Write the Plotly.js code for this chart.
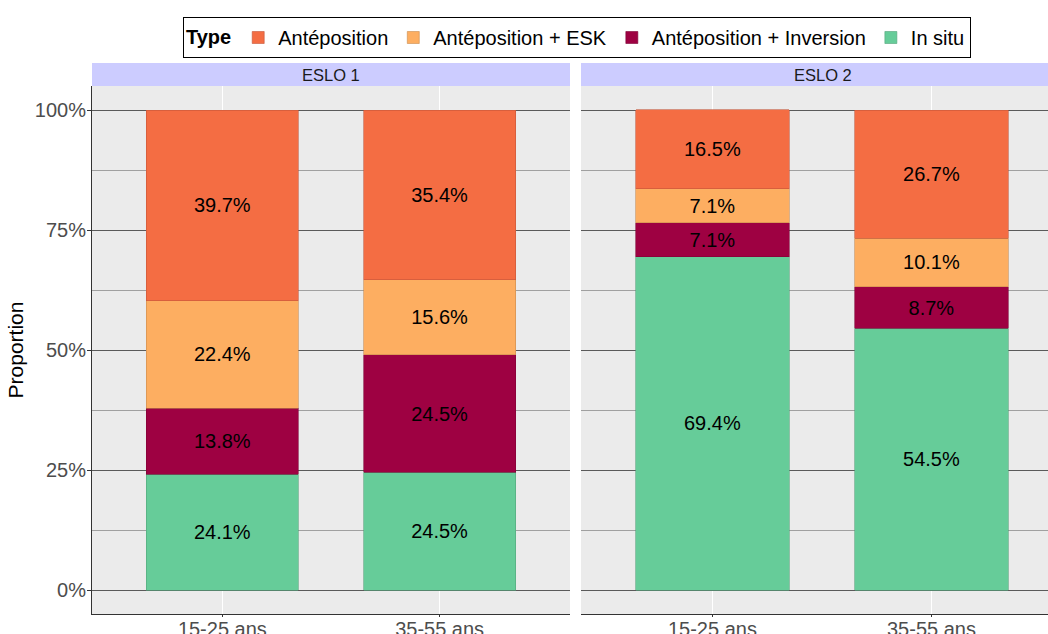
<!DOCTYPE html>
<html><head><meta charset="utf-8">
<script src="https://cdn.plot.ly/plotly-3.0.1.min.js"></script>
<style>html,body{margin:0;padding:0;overflow:hidden;background:#fff}</style>
</head><body><div id="plot" style="width:1048px;height:634px"></div>
<script>
const ageGroups = ["15-25 ans", "35-55 ans"];
const facets = ["ESLO 1", "ESLO 2"];
const types = ["Antéposition", "Antéposition + ESK", "Antéposition + Inversion", "In situ"];
const colors = ["#F46D43", "#FDAE61", "#9E0142", "#66CC99"];
const lineColors = ["#C4573A", "#C98B4E", "#7E0135", "#52A37A"];
// values in percent, per facet, per type, per age group
const eslo1_anteposition = [39.7, 35.4];
const eslo1_esk = [22.4, 15.6];
const eslo1_inversion = [13.8, 24.5];
const eslo1_insitu = [24.1, 24.5];
const eslo2_anteposition = [16.5, 26.7];
const eslo2_esk = [7.1, 10.1];
const eslo2_inversion = [7.1, 8.7];
const eslo2_insitu = [69.4, 54.5];
const yTickVals = [0, 0.25, 0.5, 0.75, 1];
const yTickText = ["0%", "25%", "50%", "75%", "100%"];

const facetData = [
  [eslo1_anteposition, eslo1_esk, eslo1_inversion, eslo1_insitu],
  [eslo2_anteposition, eslo2_esk, eslo2_inversion, eslo2_insitu]
];
const traces = [];
// stack from bottom: In situ, Inversion, ESK, Antéposition
const stackOrder = [3, 2, 1, 0];
facetData.forEach((fd, fi) => {
  stackOrder.forEach(ti => {
    traces.push({
      type: "bar",
      name: types[ti],
      x: ageGroups,
      y: fd[ti].map(v => v / 100),
      text: fd[ti].map(v => v.toFixed(1) + "%"),
      textposition: "inside",
      insidetextanchor: "middle",
      textangle: 0,
      constraintext: "none",
      textfont: {family: "Liberation Sans, Arial, sans-serif", size: 20, color: "#000"},
      marker: {color: colors[ti], line: {color: lineColors[ti], width: 0.6}},
      width: 0.7,
      xaxis: fi === 0 ? "x" : "x2",
      yaxis: fi === 0 ? "y" : "y2",
      showlegend: fi === 0,
      legendgroup: types[ti],
      legendrank: ti + 1,
      hoverinfo: "skip"
    });
  });
});

const W = 1048, H = 634;
const px = v => v / W, py = v => 1 - v / H;
const panelTop = 86, panelBottom = 614;
const yDomain = [py(panelBottom), py(panelTop)];
const tickFont = {family: "Liberation Sans, Arial, sans-serif", size: 20, color: "#4D4D4D"};
const yCommon = {
  range: [-0.05, 1.05], domain: yDomain, tickvals: yTickVals, ticktext: yTickText,
  showgrid: true, gridcolor: "#5A5A5A", gridwidth: 1, zeroline: false,
  minor: {tickvals: [0.125, 0.375, 0.625, 0.875], showgrid: true, gridcolor: "#A0A0A0", gridwidth: 1, ticks: ""},
  tickfont: tickFont, fixedrange: true
};
const xCommon = {
  type: "category", showgrid: true, gridcolor: "#FFFFFF", gridwidth: 1,
  showline: true, linecolor: "#333333", linewidth: 1, zeroline: false,
  ticks: "outside", ticklen: 2, tickcolor: "#333333", ticklabelstandoff: -5,
  tickfont: tickFont, fixedrange: true
};

const layout = {
  width: W, height: H,
  margin: {l: 0, r: 0, t: 0, b: 0},
  paper_bgcolor: "#FFFFFF",
  plot_bgcolor: "#EBEBEB",
  barmode: "stack",
  bargap: 0.3,
  font: {family: "Liberation Sans, Arial, sans-serif"},
  xaxis: Object.assign({}, xCommon, {domain: [px(92), px(570)], range: [-0.6, 1.6], anchor: "y"}),
  xaxis2: Object.assign({}, xCommon, {domain: [px(581), 1], range: [-0.6, 1.532], anchor: "y2"}),
  yaxis: Object.assign({}, yCommon, {
    anchor: "x", showline: true, linecolor: "#333333", linewidth: 1,
    ticks: "outside", ticklen: 4, tickcolor: "#333333", ticklabelstandoff: -3,
    title: {text: "Proportion", font: {size: 21, color: "#000"}, standoff: 5}
  }),
  yaxis2: Object.assign({}, yCommon, {anchor: "x2", showticklabels: false, ticks: "", showline: false}),
  showlegend: true,
  legend: {
    orientation: "h", x: px(577), xanchor: "center", y: py(17), yanchor: "top",
    bordercolor: "#000000", borderwidth: 1, bgcolor: "#FFFFFF",
    font: {size: 20, color: "#000"},
    title: {text: "<b>Type</b>", font: {size: 20, color: "#000"}},
    itemwidth: 30, tracegroupgap: 0
  },
  shapes: [
    {type: "rect", xref: "paper", yref: "paper", x0: px(92), x1: px(570), y0: py(86), y1: py(63), fillcolor: "#CCCCFF", line: {width: 0}},
    {type: "rect", xref: "paper", yref: "paper", x0: px(581), x1: 1, y0: py(86), y1: py(63), fillcolor: "#CCCCFF", line: {width: 0}}
  ],
  annotations: [
    {xref: "paper", yref: "paper", x: px(331), y: py(74.5), text: facets[0], showarrow: false, font: {size: 16.5, color: "#1A1A1A"}, xanchor: "center", yanchor: "middle"},
    {xref: "paper", yref: "paper", x: px(823), y: py(74.5), text: facets[1], showarrow: false, font: {size: 16.5, color: "#1A1A1A"}, xanchor: "center", yanchor: "middle"}
  ]
};
Plotly.newPlot("plot", traces, layout, {displayModeBar: false, staticPlot: true});
</script></body></html>
